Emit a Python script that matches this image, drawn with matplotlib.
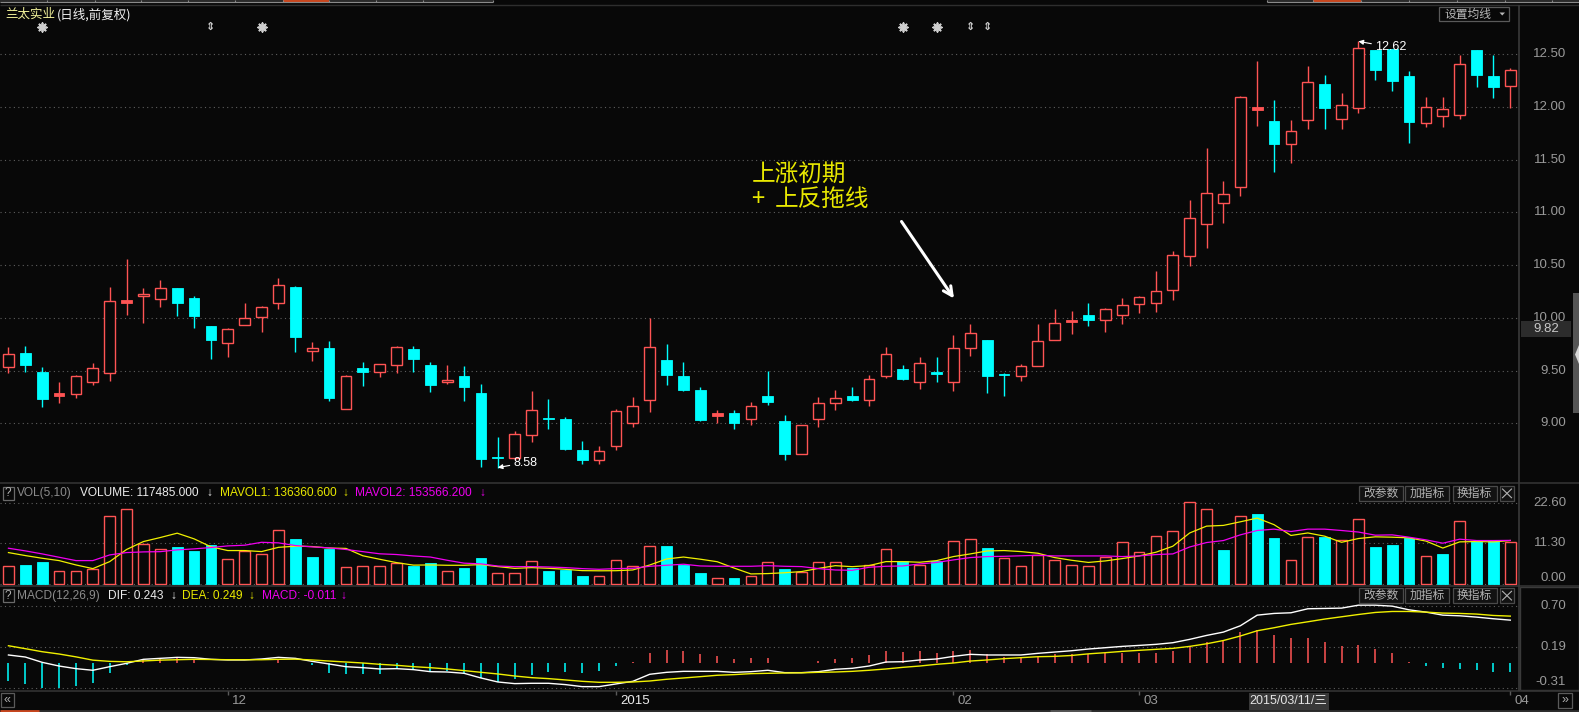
import numpy as np
import matplotlib
matplotlib.use('Agg')
import matplotlib.pyplot as plt
from matplotlib.patches import Rectangle, Polygon
from matplotlib.transforms import blended_transform_factory as btf

plt.rcParams['font.family'] = ['Liberation Sans', 'Noto Sans CJK SC', 'DejaVu Sans']

# ---------------- data ----------------
opens = [9.530, 9.668, 9.488, 9.263, 9.273, 9.387, 9.472, 10.146, 10.203, 10.174,
         10.285, 10.190, 9.924, 9.757, 9.928, 10.003, 10.136, 10.294, 9.684, 9.716,
         9.131, 9.526, 9.482, 9.548, 9.706, 9.554, 9.387, 9.450, 9.289, 8.680,
         8.675, 8.893, 9.042, 9.042, 8.748, 8.656, 8.789, 9.007, 9.225, 9.602,
         9.450, 9.317, 9.074, 9.099, 9.036, 9.260, 9.023, 8.704, 9.045, 9.191,
         9.260, 9.216, 9.444, 9.516, 9.387, 9.488, 9.387, 9.709, 9.792, 9.469,
         9.444, 9.539, 9.788, 9.962, 10.026, 9.975, 10.022, 10.127, 10.139, 10.260,
         10.585, 10.884, 11.083, 11.235, 11.975, 11.864, 11.643, 11.871, 12.215, 11.880,
         11.985, 12.538, 12.547, 12.288, 11.849, 11.915, 11.924, 12.538, 12.291, 12.200]
highs = [9.725, 9.735, 9.535, 9.393, 9.460, 9.573, 10.294, 10.560, 10.285, 10.361,
         10.285, 10.209, 9.924, 9.905, 10.143, 10.114, 10.380, 10.304, 9.773, 9.782,
         9.460, 9.583, 9.561, 9.735, 9.735, 9.583, 9.554, 9.545, 9.374, 8.871,
         8.928, 9.308, 9.232, 9.061, 8.833, 8.786, 9.134, 9.251, 9.994, 9.754,
         9.583, 9.346, 9.127, 9.127, 9.203, 9.497, 9.080, 8.985, 9.251, 9.317,
         9.346, 9.460, 9.725, 9.554, 9.630, 9.630, 9.839, 9.943, 9.792, 9.475,
         9.564, 9.943, 10.086, 10.067, 10.143, 10.092, 10.190, 10.209, 10.446, 10.633,
         11.115, 11.608, 11.295, 12.098, 12.434, 12.064, 11.874, 12.386, 12.301, 12.130,
         12.620, 12.538, 12.547, 12.339, 12.092, 12.092, 12.491, 12.538, 12.491, 12.364]
lows = [9.472, 9.488, 9.156, 9.194, 9.244, 9.365, 9.403, 10.029, 9.947, 10.105,
        10.019, 9.905, 9.611, 9.630, 9.928, 9.867, 10.086, 9.678, 9.592, 9.213,
        9.131, 9.355, 9.434, 9.472, 9.488, 9.298, 9.368, 9.213, 8.590, 8.580,
        8.653, 8.818, 8.950, 8.742, 8.618, 8.618, 8.751, 8.969, 9.102, 9.358,
        9.301, 9.017, 9.001, 8.941, 8.988, 9.169, 8.656, 8.704, 8.969, 9.121,
        9.213, 9.159, 9.428, 9.406, 9.320, 9.393, 9.301, 9.640, 9.289, 9.260,
        9.403, 9.539, 9.788, 9.849, 9.924, 9.861, 9.943, 10.048, 10.051, 10.171,
        10.487, 10.658, 10.900, 11.156, 11.820, 11.384, 11.469, 11.792, 11.792, 11.792,
        11.943, 12.256, 12.152, 11.659, 11.811, 11.811, 11.886, 12.190, 12.086, 11.991]
closes = [9.656, 9.554, 9.232, 9.279, 9.450, 9.526, 10.155, 10.160, 10.225, 10.282,
          10.136, 10.013, 9.785, 9.896, 9.997, 10.102, 10.310, 9.820, 9.713, 9.241,
          9.447, 9.482, 9.561, 9.722, 9.605, 9.358, 9.409, 9.339, 8.660, 8.670,
          8.900, 9.124, 9.036, 8.757, 8.653, 8.739, 9.115, 9.165, 9.722, 9.460,
          9.317, 9.033, 9.090, 8.998, 9.165, 9.197, 8.704, 8.985, 9.191, 9.238,
          9.225, 9.418, 9.656, 9.415, 9.570, 9.463, 9.713, 9.855, 9.450, 9.453,
          9.542, 9.779, 9.950, 9.972, 9.975, 10.083, 10.120, 10.196, 10.253, 10.595,
          10.941, 11.178, 11.169, 12.089, 11.988, 11.649, 11.766, 12.231, 11.991, 12.013,
          12.554, 12.351, 12.247, 11.858, 11.994, 11.975, 12.402, 12.304, 12.190, 12.345]
# volume in 10^4 shares
volume = [4.93, 5.30, 6.14, 3.63, 3.63, 4.19, 18.98, 20.84, 11.16, 9.67,
          10.33, 9.30, 10.88, 6.88, 9.30, 8.37, 15.07, 12.56, 7.53, 9.86,
          4.65, 4.93, 4.93, 5.95, 5.12, 5.86, 3.63, 4.47, 7.26, 2.98,
          2.98, 6.33, 3.63, 4.00, 2.23, 2.14, 6.60, 4.93, 10.51, 10.60,
          5.30, 3.07, 1.58, 1.67, 2.14, 6.05, 4.19, 3.26, 6.05, 6.05,
          4.56, 5.21, 9.67, 6.33, 5.21, 6.51, 11.90, 12.47, 10.05, 7.16,
          4.93, 8.19, 6.70, 5.21, 5.02, 7.44, 11.63, 8.84, 13.30, 14.70,
          22.80, 20.84, 9.49, 18.98, 19.53, 12.84, 6.60, 13.02, 13.20, 12.19,
          18.05, 10.33, 10.88, 12.74, 7.72, 8.37, 17.49, 12.00, 12.00, 11.75]
mavol1 = [8.74, 7.91, 7.16, 6.51, 5.30, 4.28, 6.23, 9.60, 11.81, 12.93,
          14.14, 12.56, 10.35, 9.30, 9.30, 9.02, 10.20, 10.51, 10.42, 10.00,
          9.90, 7.85, 6.88, 5.95, 5.25, 5.30, 5.21, 5.21, 5.40, 4.84,
          4.35, 4.56, 4.37, 4.09, 3.72, 3.67, 3.70, 3.91, 5.28, 6.96,
          7.50, 6.90, 6.20, 4.44, 2.80, 2.90, 3.13, 3.46, 4.34, 5.10,
          4.82, 5.12, 6.23, 6.23, 6.05, 6.50, 7.63, 8.37, 9.20, 9.30,
          9.02, 8.56, 7.35, 6.60, 6.00, 6.42, 7.07, 7.81, 8.84, 10.51,
          14.20, 16.10, 16.30, 17.30, 18.33, 16.50, 13.50, 14.20, 13.30, 11.60,
          12.65, 13.12, 13.02, 12.84, 11.94, 10.00, 11.72, 11.81, 11.72, 12.10]
mavol2 = [9.95, 9.21, 8.37, 7.44, 6.51, 6.51, 8.09, 8.74, 8.93, 9.00,
          9.49, 9.77, 10.14, 10.60, 10.79, 11.60, 11.44, 10.70, 10.33, 10.05,
          9.60, 9.00, 8.40, 8.20, 7.80, 7.50, 6.60, 5.80, 5.60, 5.00,
          4.82, 4.84, 4.74, 4.56, 4.28, 4.09, 4.28, 4.37, 4.93, 5.21,
          5.50, 5.02, 4.93, 4.93, 4.93, 5.10, 4.93, 4.84, 4.28, 3.90,
          3.81, 4.65, 4.93, 5.02, 5.58, 6.00, 6.70, 7.35, 7.63, 7.70,
          7.85, 8.00, 7.81, 7.81, 7.81, 7.81, 7.63, 7.81, 8.19, 8.37,
          10.30, 11.53, 12.09, 13.67, 14.88, 15.26, 14.60, 15.26, 15.26, 14.88,
          14.45, 13.58, 13.67, 13.02, 12.28, 11.35, 12.47, 12.09, 12.09, 12.13]
dif = [0.098, 0.073, 0.008, -0.037, -0.069, -0.089, -0.045, -0.004, 0.045, 0.057,
       0.069, 0.065, 0.045, 0.037, 0.037, 0.049, 0.069, 0.057, 0.020, -0.012,
       -0.045, -0.057, -0.073, -0.069, -0.081, -0.106, -0.110, -0.126, -0.183, -0.232,
       -0.252, -0.248, -0.248, -0.264, -0.289, -0.289, -0.256, -0.224, -0.138, -0.114,
       -0.102, -0.102, -0.102, -0.114, -0.106, -0.089, -0.118, -0.118, -0.106, -0.077,
       -0.065, -0.037, 0.012, 0.016, 0.037, 0.049, 0.081, 0.106, 0.098, 0.098,
       0.098, 0.118, 0.134, 0.150, 0.171, 0.187, 0.203, 0.215, 0.228, 0.248,
       0.289, 0.337, 0.378, 0.455, 0.585, 0.606, 0.614, 0.663, 0.667, 0.671,
       0.707, 0.707, 0.695, 0.650, 0.622, 0.585, 0.577, 0.561, 0.541, 0.524]
dea = [0.211, 0.175, 0.138, 0.110, 0.075, 0.035, 0.020, 0.015, 0.025, 0.035,
       0.040, 0.045, 0.043, 0.040, 0.040, 0.040, 0.045, 0.047, 0.037, 0.024,
       0.012, 0.000, -0.016, -0.028, -0.045, -0.057, -0.073, -0.093, -0.114, -0.134,
       -0.159, -0.179, -0.191, -0.207, -0.224, -0.236, -0.236, -0.232, -0.220, -0.199,
       -0.183, -0.167, -0.150, -0.142, -0.130, -0.126, -0.122, -0.120, -0.114, -0.110,
       -0.102, -0.089, -0.073, -0.053, -0.037, -0.016, 0.000, 0.024, 0.037, 0.053,
       0.065, 0.077, 0.081, 0.092, 0.112, 0.126, 0.142, 0.155, 0.167, 0.179,
       0.203, 0.235, 0.275, 0.330, 0.394, 0.431, 0.472, 0.504, 0.537, 0.565,
       0.593, 0.618, 0.630, 0.630, 0.622, 0.610, 0.606, 0.598, 0.581, 0.573]
macd = [-0.220, -0.252, -0.300, -0.309, -0.276, -0.240, -0.118, -0.028, 0.033, 0.049,
        0.061, 0.045, 0.004, 0.000, 0.000, 0.004, 0.045, 0.004, -0.024, -0.118,
        -0.138, -0.138, -0.130, -0.077, -0.077, -0.106, -0.098, -0.122, -0.179, -0.228,
        -0.199, -0.142, -0.114, -0.114, -0.122, -0.093, -0.033, 0.016, 0.122, 0.159,
        0.142, 0.114, 0.089, 0.053, 0.061, 0.065, 0.002, 0.002, 0.028, 0.049,
        0.061, 0.102, 0.142, 0.134, 0.142, 0.122, 0.146, 0.159, 0.114, 0.073,
        0.061, 0.073, 0.106, 0.110, 0.106, 0.126, 0.126, 0.118, 0.126, 0.146,
        0.211, 0.252, 0.272, 0.378, 0.398, 0.341, 0.309, 0.305, 0.260, 0.211,
        0.220, 0.167, 0.122, 0.012, -0.033, -0.065, -0.073, -0.081, -0.106, -0.110]

price_levels = [12.5, 12.0, 11.5, 11.0, 10.5, 10.0, 9.5, 9.0]
price_labels = ['12.50', '12.00', '11.50', '11.00', '10.50', '10.00', '9.50', '9.00']
vol_levels = [22.6, 11.3, 0.0]
vol_labels = ['22.60', '11.30', '0.00']
macd_levels = [0.70, 0.19, -0.31]
macd_labels = ['0.70', '0.19', '-0.31']
date_tick_idx = [13, 36, 56, 67, 89]
date_tick_labels = ['12', '2015', '02', '03', '04']
star_idx = [2, 15, 53, 55]
updown_idx = [12, 57, 58]
high_idx, high_val = 80, 12.62
low_idx, low_val = 29, 8.58

# ---------------- layout ----------------
W, H = 1579, 712
BG = '#080808'
RED = '#ff5454'
CYAN = '#00ffff'
YEL = '#f0f000'
MAG = '#f000f0'
GRID = '#5e5e5e'
AXT = '#9a9a9a'
SEP = '#333333'
N = len(closes)
X0, STEP = 8.45, 16.875
XL = ((0 - X0) / STEP, (1519 - X0) / STEP)
BW = 0.64

fig = plt.figure(figsize=(W / 100, H / 100), dpi=100, facecolor=BG)


def px_axes(x0, y0, x1, y1):
    ax = fig.add_axes([x0 / W, 1 - y1 / H, (x1 - x0) / W, (y1 - y0) / H])
    ax.axis('off')
    ax.set_xlim(*XL)
    return ax


def px2val(y, yref, vref, scale):
    return vref + (yref - y) / scale


ax_p = px_axes(0, 5, 1519, 483.3)
ax_p.set_ylim(px2val(483.3, 54, 12.5, 105.5), px2val(5, 54, 12.5, 105.5))
ax_v = px_axes(0, 483.3, 1519, 586.3)
ax_v.set_ylim(px2val(586.3, 584, 0, 3.595), px2val(483.3, 584, 0, 3.595))
ax_m = px_axes(0, 586.3, 1519, 690.7)
ax_m.set_ylim(px2val(690.7, 663, 0, 81.8), px2val(586.3, 663, 0, 81.8))

dots = (0, (1, 3))
for ax, lv in ((ax_p, price_levels), (ax_v, vol_levels), (ax_m, macd_levels)):
    ax.hlines(lv, XL[0], XL[1], colors=GRID, linestyles=dots, lw=0.8, zorder=0)

x = np.arange(N)

# ---------------- candles ----------------
for i in range(N):
    o, h, l, c = opens[i], highs[i], lows[i], closes[i]
    lo, hi = min(o, c), max(o, c)
    if c >= o:
        if hi - lo < 0.02:
            ax_p.vlines(i, l, h, color=RED, lw=1.0, zorder=2)
            ax_p.add_patch(Rectangle((i - BW / 2, lo - 0.006), BW, hi - lo + 0.012,
                                     fc=RED, ec=RED, lw=0.6, zorder=3))
        else:
            ax_p.vlines(i, hi, h, color=RED, lw=1.0, zorder=2)
            ax_p.vlines(i, l, lo, color=RED, lw=1.0, zorder=2)
            ax_p.add_patch(Rectangle((i - BW / 2, lo), BW, hi - lo,
                                     fc=BG, ec=RED, lw=1.0, zorder=3))
    else:
        ax_p.vlines(i, l, h, color=CYAN, lw=1.0, zorder=2)
        ax_p.add_patch(Rectangle((i - BW / 2, lo), BW, max(hi - lo, 0.012),
                                 fc=CYAN, ec=CYAN, lw=0.6, zorder=3))

# ---------------- volume ----------------
for i in range(N):
    prev = closes[i - 1] if i > 0 else opens[i]
    v = volume[i]
    if closes[i] >= prev:
        ax_v.add_patch(Rectangle((i - BW / 2, 0), BW, v, fc=BG, ec=RED, lw=1.0, zorder=2))
    else:
        ax_v.add_patch(Rectangle((i - BW / 2, 0), BW, v, fc=CYAN, ec=CYAN, lw=0.6, zorder=2))
ax_v.plot(x, mavol1, color=YEL, lw=0.9, zorder=4)
ax_v.plot(x, mavol2, color=MAG, lw=0.9, zorder=4)

# ---------------- MACD ----------------
macd_arr = np.array(macd)
ax_m.vlines(x, 0, macd_arr, colors=[RED if m >= 0 else CYAN for m in macd], lw=1.1, zorder=2)
ax_m.plot(x, dif, color='#ffffff', lw=1.0, zorder=4)
ax_m.plot(x, dea, color=YEL, lw=1.0, zorder=4)

# ---------------- overlay in pixel coordinates ----------------
ov = fig.add_axes([0, 0, 1, 1])
ov.axis('off')
ov.set_xlim(0, W)
ov.set_ylim(H, 0)

# top strip
ov.add_patch(Rectangle((0, 0), 493, 2.4, fc='#2a2a2a', ec='none'))
ov.add_patch(Rectangle((1267, 0), 312, 2.4, fc='#2a2a2a', ec='none'))
ov.add_patch(Rectangle((282.6, 0), 46.4, 2.4, fc='#c8461e', ec='none'))
ov.add_patch(Rectangle((1313, 0), 48, 2.4, fc='#c8461e', ec='none'))
ov.hlines(2.2, 0, 493, color='#8a8a8a', lw=0.8)
ov.hlines(2.2, 1267, 1579, color='#8a8a8a', lw=0.8)
ov.vlines([47, 95, 141, 188, 235, 283, 329, 376, 423, 493], 0, 2.4, color='#8a8a8a', lw=0.8)
ov.vlines([1267, 1313, 1361, 1409, 1457, 1505, 1552], 0, 2.4, color='#8a8a8a', lw=0.8)
ov.hlines(4.7, 0, W, color='#2e2e2e', lw=1)

# separators
ov.hlines([483.3, 586.3, 690.7], 0, W, color=SEP, lw=1.2)
ov.vlines(1519.3, 4.7, 690.7, color='#3a3a3a', lw=1.2)
ov.add_patch(Rectangle((1520, 587), 58.5, 103, fc='none', ec='#3a3a3a', lw=1))

# bottom strip
ov.hlines(711, 0, W, color='#2e2e2e', lw=2)
ov.hlines(711, 0, 39, color='#c8461e', lw=2)
ov.hlines(711, 1050, 1091, color='#555555', lw=2)

# scrollbar and side arrow
ov.add_patch(Rectangle((1572.6, 293), 6.4, 120, fc='#555555', ec='none'))
ov.add_patch(Polygon([[1579, 345], [1579, 364], [1575, 354.5]], closed=True, fc='#d8d8d8', ec='none'))

# title
ov.text(5, 14.6, '兰太实业', color='#f2f29a', fontsize=9, va='center', ha='left',
        family=['Noto Sans CJK SC'])
ov.text(57, 14.6, '(日线,前复权)', color='#f0f0f0', fontsize=9, va='center', ha='left',
        family=['Noto Sans CJK SC'])

# 设置均线 box
ov.add_patch(Rectangle((1438.8, 6.7), 70.4, 14, fc='none', ec='#5a5a5a', lw=0.9))
ov.text(1444.5, 14, '设置均线', color='#b8b8b8', fontsize=8.5, va='center', ha='left',
        family=['Noto Sans CJK SC'])
ov.add_patch(Polygon([[1499.5, 12.5], [1505, 12.5], [1502.25, 15.5]], closed=True, fc='#b8b8b8', ec='none'))

# event markers
tmark = btf(ax_p.transData, ov.transData)
ov.scatter(star_idx, [26.5] * len(star_idx), transform=tmark, marker=(8, 2, 0), s=38,
           color='#cfcfcf', linewidths=1.3, zorder=5)
ov.scatter(star_idx, [26.5] * len(star_idx), transform=tmark, marker='o', s=9,
           color='#cfcfcf', zorder=5)
for i in updown_idx:
    ov.text(i, 26.5, '⇕', transform=tmark, color='#cfcfcf', fontsize=8, ha='center',
            va='center', family=['DejaVu Sans'], fontweight='bold')

# price axis labels
tp = btf(ov.transData, ax_p.transData)
for lv, lb in zip(price_levels, price_labels):
    ov.text(1566, lv, lb, transform=tp, color=AXT, fontsize=9.5, ha='right', va='center')
tv = btf(ov.transData, ax_v.transData)
for lv, lb in zip(vol_levels, vol_labels):
    ov.text(1566, lv, lb, transform=tv, color=AXT, fontsize=9.5, ha='right',
            va='bottom' if lv == vol_levels[-1] else 'center')
tm = btf(ov.transData, ax_m.transData)
for lv, lb in zip(macd_levels, macd_labels):
    ov.text(1566, lv, lb, transform=tm, color=AXT, fontsize=9.5, ha='right',
            va='bottom' if lv == macd_levels[-1] else 'center')

# current-price box
ov.add_patch(Rectangle((1521, 321), 49.7, 15.7, fc='#2c2c2c', ec='none', zorder=6))
ov.text(1545.8, 329, '9.82', color='#c8c8c8', fontsize=9.5, ha='center', va='center', zorder=7)

# high / low labels
ax_p.annotate('12.62', xy=(high_idx, high_val), xytext=(17, -6), textcoords='offset pixels',
              color='white', fontsize=9, ha='left', va='center',
              arrowprops=dict(arrowstyle='-|>', color='white', lw=0.8, mutation_scale=7,
                              shrinkA=1, shrinkB=0), zorder=6)
ax_p.annotate('8.58', xy=(low_idx, low_val), xytext=(16, 5), textcoords='offset pixels',
              color='white', fontsize=9, ha='left', va='center',
              arrowprops=dict(arrowstyle='-|>', color='white', lw=0.8, mutation_scale=7,
                              shrinkA=1, shrinkB=0), zorder=6)

# annotation
ov.text(752, 174.5, '上涨初期', color='#e8e800', fontsize=17, ha='left', va='center',
        family=['Noto Sans CJK SC'])
ov.text(751, 199.5, '+', color='#e8e800', fontsize=17, ha='left', va='center',
        family=['Noto Sans CJK SC'])
ov.text(775, 199.5, '上反拖线', color='#e8e800', fontsize=17, ha='left', va='center',
        family=['Noto Sans CJK SC'])
ov.annotate('', xy=(954, 298.5), xytext=(901.5, 221.5),
            arrowprops=dict(arrowstyle='->', color='white', lw=2.2, mutation_scale=16,
                            shrinkA=0, shrinkB=0))


# panel headers
def qbox(y):
    ov.add_patch(Rectangle((2.7, y - 6.7), 10.8, 13.4, fc='none', ec='#6a6a6a', lw=0.9))
    ov.text(8.1, y, '?', color='#b0b0b0', fontsize=8.5, ha='center', va='center')


for y, items in ((493.3, [(17, 'VOL(5,10)', '#8c8c8c'), (80, 'VOLUME: 117485.000', '#ececec'),
                          (206, '↓', '#ececec'), (220, 'MAVOL1: 136360.600', '#e8e800'),
                          (342, '↓', '#e8e800'), (355, 'MAVOL2: 153566.200', '#ee00ee'),
                          (479, '↓', '#ee00ee')]),
                 (595.7, [(17, 'MACD(12,26,9)', '#8c8c8c'), (108, 'DIF: 0.243', '#ececec'),
                          (170, '↓', '#ececec'), (182, 'DEA: 0.249', '#e8e800'),
                          (248, '↓', '#e8e800'), (262, 'MACD: -0.011', '#ee00ee'),
                          (340, '↓', '#ee00ee')])):
    qbox(y)
    for xx, t, col in items:
        ov.text(xx, y, t, color=col, fontsize=8.6, ha='left', va='center')

# buttons
for ytop in (486.0, 588.3):
    for (bx0, bx1), t in zip([(1358.7, 1402.7), (1405, 1449), (1452.5, 1496.5)],
                             ['改参数', '加指标', '换指标']):
        ov.add_patch(Rectangle((bx0, ytop), bx1 - bx0, 14.7, fc='#121212', ec='#4a4a4a', lw=0.9))
        ov.text((bx0 + bx1) / 2, ytop + 7.5, t, color='#b4b4b4', fontsize=8.5, ha='center',
                va='center', family=['Noto Sans CJK SC'])
    ov.add_patch(Rectangle((1499.6, ytop), 14.8, 14.7, fc='#121212', ec='#4a4a4a', lw=0.9))
    ov.plot([1502.5, 1511.5], [ytop + 3, ytop + 11.7], color='#b4b4b4', lw=0.8)
    ov.plot([1502.5, 1511.5], [ytop + 11.7, ytop + 3], color='#b4b4b4', lw=0.8)

# date axis
td = btf(ax_p.transData, ov.transData)
for i, lb in zip(date_tick_idx, date_tick_labels):
    ov.vlines(i, 690.7, 694.5, transform=td, color='#5a5a5a', lw=1)
    ov.annotate(lb, xy=(i, 700.5), xycoords=td, xytext=(4, 0), textcoords='offset pixels',
                color='#ececec' if lb == '2015' else AXT, fontsize=9.5, ha='left', va='center')

ov.add_patch(Rectangle((1249, 692.7), 79.5, 17.3, fc='#383838', ec='none'))
ov.text(1288.7, 701.3, '2015/03/11/三', color='#e4e4e4', fontsize=9, ha='center', va='center')

ov.add_patch(Rectangle((0.5, 693.3), 13.8, 14, fc='none', ec='#5a5a5a', lw=0.9))
ov.text(7.4, 700.3, '«', color='#b0b0b0', fontsize=9, ha='center', va='center')
ov.add_patch(Rectangle((1558, 693.3), 14.4, 14.7, fc='none', ec='#5a5a5a', lw=0.9))
ov.text(1565.2, 700.5, '»', color='#b0b0b0', fontsize=9, ha='center', va='center')

fig.savefig('out.png', dpi=100, facecolor=BG)
